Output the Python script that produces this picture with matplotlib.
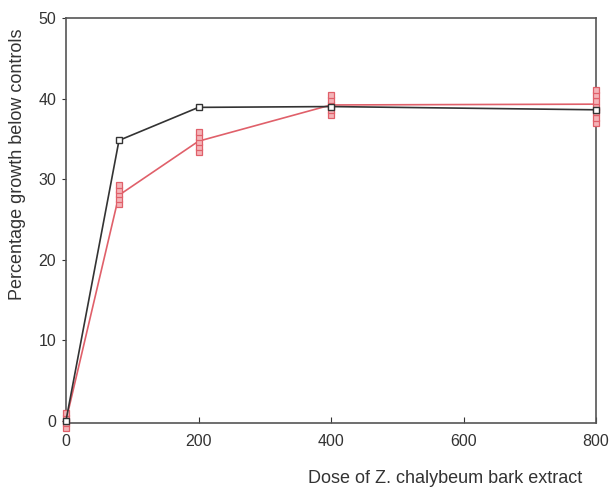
import matplotlib
matplotlib.use("Agg")
import matplotlib.pyplot as plt
import numpy as np

plt.rcParams["font.family"] = ["Liberation Sans", "DejaVu Sans"]

# doses (x) and the two series
doses = [0, 80, 200, 400, 800]
black_vals = [0.0, 34.8, 38.9, 39.0, 38.6]
red_mean = [0.0, 28.0, 34.7, 39.2, 39.3]

# replicate points of the red series (stacked at each dose)
red_reps = {
    0: [-0.9, -0.3, 0.3, 0.9],
    80: [26.9, 27.5, 28.1, 28.7, 29.3],
    200: [33.4, 34.0, 34.6, 35.2, 35.8],
    400: [38.0, 38.6, 39.2, 39.8, 40.4],
    800: [36.9, 37.6, 38.3, 39.0, 39.7, 40.4, 41.1],
}

xticks = [0, 200, 400, 600, 800]
yticks = [0, 10, 20, 30, 40, 50]

red = "#e0606a"
dark = "#333333"

fig = plt.figure(figsize=(6.09, 4.94), dpi=100)
ax = fig.add_axes([66 / 609, 71 / 494, 530 / 609, 405 / 494])

ax.plot(doses, red_mean, color=red, lw=1.2, zorder=2, clip_on=False)
for d, vals in red_reps.items():
    ax.plot([d] * len(vals), vals, ls="none", marker="s", ms=5,
            mfc="#f4b4b8", mec=red, mew=0.9, zorder=3, clip_on=False)

ax.plot(doses, black_vals, color=dark, lw=1.2, marker="s", ms=5,
        mfc="white", mec=dark, mew=1.0, zorder=4, clip_on=False)

ax.set_xlim(0, 800)
ax.set_ylim(-0.3, 50)
ax.set_xticks(xticks)
ax.set_yticks(yticks)
ax.tick_params(axis="x", direction="in", length=4, colors=dark, labelsize=11.5, pad=8)
ax.tick_params(axis="y", direction="out", length=3, colors=dark, labelsize=11.5, pad=4)
for s in ax.spines.values():
    s.set_color("#555555")
    s.set_linewidth(1.2)

ax.set_ylabel("Percentage growth below controls", fontsize=13, color=dark)
ax.yaxis.set_label_coords(-0.075, 0.64)
ax.set_xlabel("Dose of Z. chalybeum bark extract", fontsize=13, color=dark)
ax.xaxis.set_label_coords(0.715, -0.115)

fig.savefig("out.png", dpi=100)
